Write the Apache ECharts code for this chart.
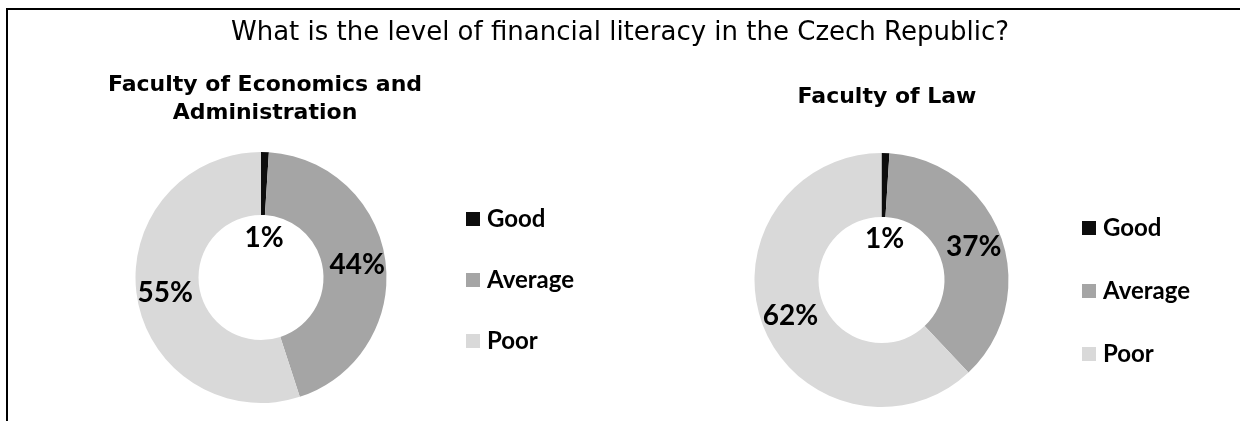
<!DOCTYPE html>
<html>
<head>
<meta charset="utf-8">
<script src="https://cdn.jsdelivr.net/npm/echarts@6/dist/echarts.min.js"></script>
<style>
  html, body { margin: 0; padding: 0; background: #ffffff; }
  #chart { width: 1240px; height: 421px; }
</style>
</head>
<body>
<div id="chart"></div>
<script>
// Survey answers (percent of respondents) for each faculty
const categories = ['Good', 'Average', 'Poor'];
const economicsValues = [1, 44, 55];
const lawValues = [1, 37, 62];
const mainTitle = 'What is the level of financial literacy in the Czech Republic?';
const economicsTitle = 'Faculty of Economics and\nAdministration';
const lawTitle = 'Faculty of Law';

const sliceColors = ['#0d0d0d', '#a5a5a5', '#d9d9d9'];
const labelFont = 'Lato, "Open Sans", sans-serif';
const titleFont = '"DejaVu Sans", Verdana, sans-serif';

function toData(values) {
  return categories.map((name, i) => ({
    name: name,
    value: values[i],
    itemStyle: { color: sliceColors[i] }
  }));
}

function donut(values, center, radius) {
  return {
    type: 'pie',
    center: center,
    radius: radius,
    startAngle: 90,
    clockwise: true,
    avoidLabelOverlap: false,
    silent: true,
    itemStyle: { borderWidth: 0 },
    label: {
      show: true,
      position: 'inside',
      formatter: '{c}%',
      color: '#000000',
      fontFamily: labelFont,
      fontWeight: 'bold',
      fontSize: 28
    },
    labelLine: { show: false },
    // the tiny "Good" slice keeps its label inside the hole
    labelLayout: function (params) {
      if (params.dataIndex === 0) {
        return { dy: 57 };
      }
      return {};
    },
    data: toData(values)
  };
}

function legend(left, top, gap) {
  return {
    orient: 'vertical',
    left: left,
    top: top,
    padding: 0,
    icon: 'rect',
    itemWidth: 14,
    itemHeight: 14,
    itemGap: gap,
    selectedMode: false,
    data: categories,
    textStyle: {
      fontFamily: labelFont,
      fontWeight: 'bold',
      fontSize: 24,
      lineHeight: 24,
      color: '#000000',
      padding: [0, 0, 0, 2]
    }
  };
}

const chart = echarts.init(document.getElementById('chart'), null, { renderer: 'canvas' });

chart.setOption({
  backgroundColor: '#ffffff',
  animation: false,
  title: [
    {
      text: mainTitle,
      left: 620,
      top: 20,
      padding: 0,
      textAlign: 'center',
      textStyle: {
        fontFamily: titleFont,
        fontWeight: 'normal',
        fontSize: 26,
        lineHeight: 26,
        color: '#000000'
      }
    },
    {
      text: economicsTitle,
      left: 265,
      top: 71,
      padding: 0,
      textAlign: 'center',
      textStyle: {
        fontFamily: titleFont,
        fontWeight: 'bold',
        fontSize: 22,
        lineHeight: 28,
        color: '#000000'
      }
    },
    {
      text: lawTitle,
      left: 887,
      top: 83,
      padding: 0,
      textAlign: 'center',
      textStyle: {
        fontFamily: titleFont,
        fontWeight: 'bold',
        fontSize: 22,
        lineHeight: 28,
        color: '#000000'
      }
    }
  ],
  legend: [
    legend(466, 207, 37),
    legend(1082, 216, 39)
  ],
  series: [
    donut(economicsValues, [261, 277.5], [62.5, 125.5]),
    donut(lawValues, [881.5, 280], [63, 127])
  ],
  graphic: [
    {
      type: 'polyline',
      silent: true,
      shape: { points: [[7, 421], [7, 9], [1240, 9]] },
      style: { stroke: '#000000', lineWidth: 2, fill: null }
    }
  ]
});
</script>
</body>
</html>
